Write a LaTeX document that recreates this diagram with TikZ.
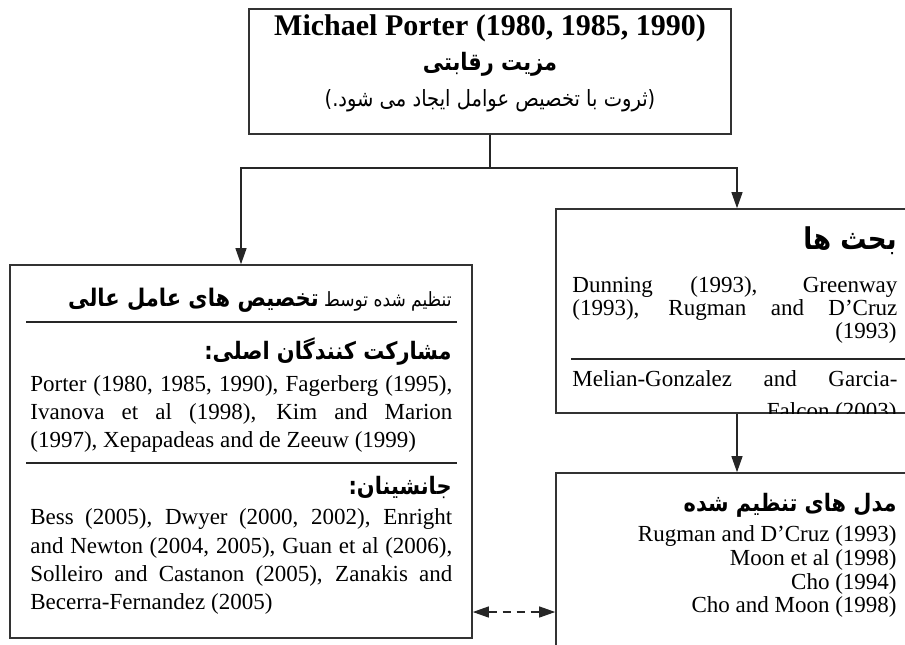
\documentclass[tikz,border=0pt]{standalone}
\usepackage{fontspec}
\setmainfont{Liberation Serif}
\newfontfamily\fa[Script=Arabic, FakeStretch=0.87]{DejaVu Sans}
\TeXXeTstate=1
\usetikzlibrary{arrows.meta}

\begin{document}
\begin{tikzpicture}[x=0.5pt, y=-0.5pt,
  box/.style={draw=black!80, line width=0.8pt, rectangle, inner sep=0pt},
  txt/.style={inner sep=0pt, font=\fontsize{11.5}{14}\selectfont},
  head/.style={inner sep=0pt, font=\fontsize{12}{14}\selectfont\fa\bfseries},
  rule/.style={line width=1.1pt, draw=black!85},
  arr/.style={-{Triangle[length=8pt,width=5.5pt]}, line width=0.6pt, draw=black!85}]

\useasboundingbox (0,0) rectangle (905,644);

% boxes
\node[box, minimum width=241pt, minimum height=62.5pt] (porter) at (490,71.5) {};
\node[box, minimum width=231pt, minimum height=186.5pt] (factors) at (241,451.5) {};
\node[box, minimum width=181pt, minimum height=102pt] (debates) at (737,311) {};
\node[box, minimum width=181pt, minimum height=113.5pt] (models) at (737,586.5) {};

% top box
\node[txt, font=\fontsize{15}{17}\selectfont\bfseries, anchor=mid] (p1) at (490,31) {Michael Porter (1980, 1985, 1990)};
\node[head, anchor=mid] (p2) at (490,66) {\beginR مزیت رقابتی\endR};
\node[txt, font=\fontsize{11.2}{13}\selectfont\fa, anchor=mid] (p3) at (490,102) {\beginR (ثروت با تخصیص عوامل ایجاد می شود.)\endR};

% left box
\node[txt, font=\fontsize{9.8}{12}\selectfont\fa, anchor=mid east] (f1) at (452,302)
  {\beginR تنظیم شده توسط {\fontsize{12.1}{14}\selectfont\bfseries تخصیص های عامل عالی}\endR};
\draw[rule] (26,322) -- (457,322);
\node[head, anchor=mid east] (f2) at (452,355) {\beginR مشارکت کنندگان اصلی:\endR};
\node[txt, anchor=mid west] (f3) at (30,387) {\makebox[211pt][s]{Porter (1980, 1985, 1990), Fagerberg (1995),}};
\node[txt, anchor=mid west] (f4) at (30,415) {\makebox[211pt][s]{Ivanova et al (1998), Kim and Marion}};
\node[txt, anchor=mid west] (f5) at (30,443) {(1997), Xepapadeas and de Zeeuw (1999)};
\draw[rule] (26,463) -- (457,463);
\node[head, anchor=mid east] (f6) at (452,490) {\beginR جانشینان:\endR};
\node[txt, anchor=mid west] (f7) at (30,520) {\makebox[211pt][s]{Bess (2005), Dwyer (2000, 2002), Enright}};
\node[txt, anchor=mid west] (f8) at (30,549) {\makebox[211pt][s]{and Newton (2004, 2005), Guan et al (2006),}};
\node[txt, anchor=mid west] (f9) at (30,577) {\makebox[211pt][s]{Solleiro and Castanon (2005), Zanakis and}};
\node[txt, anchor=mid west] (f10) at (30,605) {Becerra-Fernandez (2005)};

% right top box
\node[head, font=\fontsize{15}{17}\selectfont\fa\bfseries, anchor=mid east] (d1) at (897,245) {\beginR بحث ها\endR};
\node[txt, anchor=mid west] (d2) at (572,288) {\makebox[162.5pt][s]{Dunning (1993), Greenway}};
\node[txt, anchor=mid west] (d3) at (572,311) {\makebox[162.5pt][s]{(1993), Rugman and D’Cruz}};
\node[txt, anchor=mid east] (d4) at (897,334) {(1993)};
\draw[rule] (571,359) -- (918,359);
\begin{scope}
\clip (debates.north west) rectangle (debates.south east);
\node[txt, anchor=mid west] (d5) at (572,382) {\makebox[162.5pt][s]{Melian-Gonzalez and Garcia-}};
\node[txt, anchor=mid east] (d6) at (897,414) {Falcon (2003)};
\end{scope}

% right bottom box
\node[head, anchor=mid east] (m1) at (897,507) {\beginR مدل های تنظیم شده\endR};
\node[txt, anchor=mid east] (m2) at (897,537) {Rugman and D’Cruz (1993)};
\node[txt, anchor=mid east] (m3) at (897,561) {Moon et al (1998)};
\node[txt, anchor=mid east] (m4) at (897,585) {Cho (1994)};
\node[txt, anchor=mid east] (m5) at (897,608) {Cho and Moon (1998)};

% connectors
\coordinate (split) at (490,168);
\coordinate (dash) at (0,612);
\draw[arr, -] (porter.south) -- (split);
\draw[arr] (split) -| (factors.north);
\draw[arr] (split) -| (debates.north);
\draw[arr] (debates.south) -- (models.north);
\draw[arr, {Triangle[length=8pt,width=5.5pt]}-{Triangle[length=8pt,width=5.5pt]}, dash pattern=on 4pt off 3pt]
  (factors.east |- dash) -- (models.west |- dash);
\end{tikzpicture}
\end{document}
